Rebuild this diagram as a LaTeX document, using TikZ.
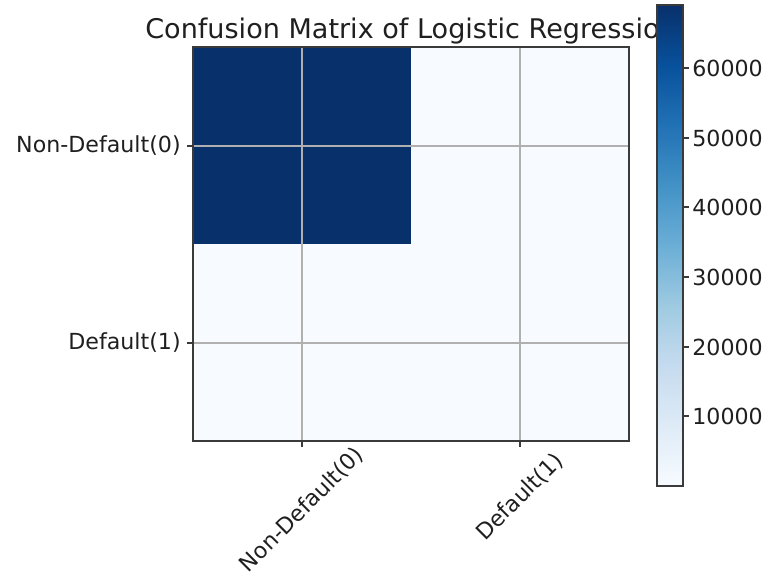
\documentclass[tikz,border=0pt]{standalone}
\usepackage{fontspec}
\setmainfont{DejaVu Sans}
\usetikzlibrary{positioning}
\definecolor{bluesA}{HTML}{F7FBFF}
\definecolor{bluesB}{HTML}{DEEBF7}
\definecolor{bluesC}{HTML}{C6DBEF}
\definecolor{bluesD}{HTML}{9ECAE1}
\definecolor{bluesE}{HTML}{6BAED6}
\definecolor{bluesF}{HTML}{4292C6}
\definecolor{bluesG}{HTML}{2171B5}
\definecolor{bluesH}{HTML}{08519C}
\definecolor{bluesI}{HTML}{08306B}
\definecolor{framegray}{HTML}{3A3A3A}
\definecolor{gridgray}{HTML}{B0B0B0}
\pgfdeclareverticalshading{bluesbar}{100bp}{%
  color(0bp)=(bluesA); color(25bp)=(bluesA); color(31.25bp)=(bluesB);
  color(37.5bp)=(bluesC); color(43.75bp)=(bluesD); color(50bp)=(bluesE);
  color(56.25bp)=(bluesF); color(62.5bp)=(bluesG); color(68.75bp)=(bluesH);
  color(75bp)=(bluesI); color(100bp)=(bluesI)}

\begin{document}
\begin{tikzpicture}[x=0.2mm, y=-0.2mm,
  cell/.style={fill=#1, draw=none},
  ticklab/.style={font=\fontsize{12.6}{14}\selectfont, text=black!88, inner sep=0pt},
  tickmark/.style={draw=framegray, line width=0.8pt},
  gridline/.style={draw=gridgray, line width=0.6pt}
]
  \useasboundingbox (0,0) rectangle (767,577);
  % Title
  \node[font=\fontsize{15.4}{18}\selectfont, text=black!88, inner sep=0pt] (title) at (411,31) {Confusion Matrix of Logistic Regression};
  % Cells
  \fill[cell=bluesI] (193,47) rectangle (411,244);
  \fill[cell=bluesA] (411,47) rectangle (629,244);
  \fill[cell=bluesA] (193,244) rectangle (411,441);
  \fill[cell=bluesA] (411,244) rectangle (629,441);
  % Grid
  \draw[gridline] (302,47) -- (302,441);
  \draw[gridline] (520,47) -- (520,441);
  \draw[gridline] (193,146) -- (629,146);
  \draw[gridline] (193,343) -- (629,343);
  % Frame
  \draw[framegray, line width=0.8pt] (193,47) rectangle (629,441);
  % Ticks and tick labels
  \draw[tickmark] (187,146) -- (193,146);
  \draw[tickmark] (187,343) -- (193,343);
  \draw[tickmark] (302,441) -- (302,447);
  \draw[tickmark] (520,441) -- (520,447);
  \node[ticklab, anchor=east] (ylab0) at (181,146) {Non-Default(0)};
  \node[ticklab, anchor=east] (ylab1) at (181,343) {Default(1)};
  \node[ticklab, rotate=45] (xlab0) at (302,510) {Non-Default(0)};
  \node[ticklab, rotate=45] (xlab1) at (520,497) {Default(1)};
  % Colorbar
  \path[shading=bluesbar] (657,5) rectangle (683,486);
  \draw[framegray, line width=0.8pt] (657,5) rectangle (683,486);
  \foreach \v/\yy in {60000/68,50000/138,40000/207,30000/277,20000/347,10000/416}{
    \draw[tickmark] (683,\yy) -- (689,\yy);
    \node[ticklab, anchor=west] (cb\v) at (692,\yy) {\v};
  }
\end{tikzpicture}
\end{document}
